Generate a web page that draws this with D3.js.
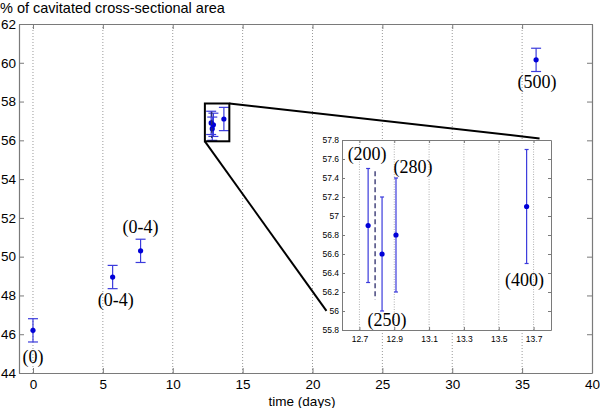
<!DOCTYPE html>
<html><head><meta charset="utf-8">
<script src="https://cdn.jsdelivr.net/npm/d3@7"></script>
<style>body{margin:0;background:#fff}svg{display:block}</style>
</head><body>
<script>
// ---- data ----
const days   = [0, 5.7, 7.7, 12.75, 12.83, 12.91, 13.66, 36];
const means  = [46.2, 48.95, 50.3, 56.9, 56.6, 56.8, 57.1, 60.15];
const errs   = [0.6, 0.6, 0.6, 0.6, 0.6, 0.6, 0.6, 0.6];
const labels = ["(0)", "(0-4)", "(0-4)", "(200)", "(250)", "(280)", "(400)", "(500)"];
const dashedDay = [12.79];
const dashedRange = [56.12, 57.47];
const xTicks = [0, 5, 10, 15, 20, 25, 30, 35, 40];
const yTicks = [44, 46, 48, 50, 52, 54, 56, 58, 60, 62];
const insetXTicks = [12.7, 12.9, 13.1, 13.3, 13.5, 13.7];
const insetYTicks = [55.8, 56, 56.2, 56.4, 56.6, 56.8, 57, 57.2, 57.4, 57.6, 57.8];
const zoomBoxX = [12.3, 14.05];
const zoomBoxY = [55.95, 57.9];
const titleText = "% of cavitated cross-sectional area";
const xLabelText = "time (days)";

const W = 600, H = 408;
const svg = d3.select("body").append("svg").attr("width", W).attr("height", H);

const x = d3.scaleLinear().domain([-1, 40]).range([19, 592]);
const y = d3.scaleLinear().domain([44, 62]).range([373, 24]);
const xi = d3.scaleLinear().domain([12.6, 13.8]).range([342, 551]);
const yi = d3.scaleLinear().domain([55.8, 57.8]).range([330, 140]);

const axisCol = "#7a7a7a";
const barCol = "#3b3bdc";
const dotCol = "#0000d8";
const sans = "Arial, 'Liberation Sans', sans-serif";
const serif = "'Times New Roman', 'Liberation Serif', serif";

// main grid
svg.append("g").selectAll("line").data(xTicks.filter(d => d < 40)).join("line")
  .attr("x1", d => x(d)).attr("x2", d => x(d))
  .attr("y1", y(44)).attr("y2", y(62))
  .attr("stroke", "#9a9a9a").attr("stroke-width", 1).attr("stroke-dasharray", "1,2");

// main axes (ticks inward)
function styleAxis(g) {
  g.selectAll("path").attr("stroke", axisCol).attr("stroke-width", 1.2);
  g.selectAll("line").attr("stroke", axisCol);
  g.selectAll("text").attr("font-family", sans).attr("font-size", 13.5).attr("fill", "#000");
}
svg.append("g").attr("transform", `translate(0,${y(44)})`)
  .call(d3.axisBottom(x).tickValues(xTicks).tickSize(-5).tickSizeOuter(0).tickPadding(6))
  .call(styleAxis);
svg.append("g").attr("transform", `translate(0,${y(62)})`)
  .call(d3.axisTop(x).tickValues(xTicks).tickSize(-5).tickSizeOuter(0).tickFormat(""))
  .call(styleAxis);
svg.append("g").attr("transform", `translate(${x(-1)},0)`)
  .call(d3.axisLeft(y).tickValues(yTicks).tickSize(-5).tickSizeOuter(0).tickPadding(3))
  .call(styleAxis);
svg.append("g").attr("transform", `translate(${x(40)},0)`)
  .call(d3.axisRight(y).tickValues(yTicks).tickSize(-5).tickSizeOuter(0).tickFormat(""))
  .call(styleAxis);

// title & x label
svg.append("text").attr("x", 0).attr("y", 13).attr("font-family", sans).attr("font-size", 14.5)
  .text(titleText);
svg.append("text").attr("x", 302).attr("y", 406).attr("text-anchor", "middle")
  .attr("font-family", sans).attr("font-size", 13.5).text(xLabelText);

const idx = d3.range(days.length);

function drawBars(g, xs, ys, cap, sw) {
  g.selectAll(null).data(idx).join("line")
    .attr("x1", i => xs(days[i])).attr("x2", i => xs(days[i]))
    .attr("y1", i => ys(means[i] + errs[i])).attr("y2", i => ys(means[i] - errs[i]))
    .attr("stroke", barCol).attr("stroke-width", sw);
  [1, -1].forEach(s => {
    g.selectAll(null).data(idx).join("line")
      .attr("x1", i => xs(days[i]) - cap).attr("x2", i => xs(days[i]) + cap)
      .attr("y1", i => ys(means[i] + s * errs[i])).attr("y2", i => ys(means[i] + s * errs[i]))
      .attr("stroke", barCol).attr("stroke-width", sw);
  });
  g.selectAll(null).data(idx).join("circle")
    .attr("cx", i => xs(days[i])).attr("cy", i => ys(means[i])).attr("r", 2.6)
    .attr("fill", dotCol);
  g.selectAll(null).data(dashedDay).join("line")
    .attr("x1", d => xs(d)).attr("x2", d => xs(d))
    .attr("y1", ys(dashedRange[1])).attr("y2", ys(dashedRange[0]))
    .attr("stroke", "#2a2a6a").attr("stroke-width", 1.3).attr("stroke-dasharray", "5,3");
}

// main data
const gMain = svg.append("g");
drawBars(gMain, x, y, 5, 1.2);

// main labels (indices 0,1,2,7)
const mainLab = [
  {i: 0, dx: 0, dy: 21},
  {i: 1, dx: 3, dy: 17},
  {i: 2, dx: 0, dy: -6},
  {i: 7, dx: 1, dy: 16},
];
svg.append("g").selectAll("text").data(mainLab).join("text")
  .attr("x", d => x(days[d.i]) + d.dx)
  .attr("y", d => (d.dy > 0 ? y(means[d.i] - errs[d.i]) : y(means[d.i] + errs[d.i])) + d.dy)
  .attr("text-anchor", "middle").attr("font-family", serif).attr("font-size", 18)
  .text(d => labels[d.i]);

// zoom box
svg.append("rect")
  .attr("x", x(zoomBoxX[0])).attr("y", y(zoomBoxY[1]))
  .attr("width", x(zoomBoxX[1]) - x(zoomBoxX[0])).attr("height", y(zoomBoxY[0]) - y(zoomBoxY[1]))
  .attr("fill", "none").attr("stroke", "#000").attr("stroke-width", 2);
// connectors
svg.append("line").attr("x1", x(zoomBoxX[1])).attr("y1", y(zoomBoxY[1]))
  .attr("x2", x(36.25)).attr("y2", y(56.1)).attr("stroke", "#000").attr("stroke-width", 2);
svg.append("line").attr("x1", x(zoomBoxX[0])).attr("y1", y(zoomBoxY[0]))
  .attr("x2", x(21)).attr("y2", y(47.2)).attr("stroke", "#000").attr("stroke-width", 2);

// ---- inset ----
const gI = svg.append("g");
gI.append("rect").attr("x", xi(12.6)).attr("y", yi(57.8))
  .attr("width", xi(13.8) - xi(12.6)).attr("height", yi(55.8) - yi(57.8)).attr("fill", "#fff");
gI.append("g").selectAll("line").data(insetXTicks).join("line")
  .attr("x1", d => xi(d)).attr("x2", d => xi(d)).attr("y1", yi(55.8)).attr("y2", yi(57.8))
  .attr("stroke", "#b0b0b0").attr("stroke-dasharray", "1,1.5");
function styleInset(g) {
  g.selectAll("path").attr("stroke", axisCol).attr("stroke-width", 1);
  g.selectAll("line").attr("stroke", axisCol);
  g.selectAll("text").attr("font-family", sans).attr("font-size", 8.5).attr("fill", "#000");
}
const fmt = d => d3.format("")(+d.toFixed(1));
gI.append("g").attr("transform", `translate(0,${yi(55.8)})`)
  .call(d3.axisBottom(xi).tickValues(insetXTicks).tickSize(-3).tickSizeOuter(0).tickPadding(6).tickFormat(fmt))
  .call(styleInset);
gI.append("g").attr("transform", `translate(0,${yi(57.8)})`)
  .call(d3.axisTop(xi).tickValues(insetXTicks).tickSize(-3).tickSizeOuter(0).tickFormat(""))
  .call(styleInset);
gI.append("g").attr("transform", `translate(${xi(12.6)},0)`)
  .call(d3.axisLeft(yi).tickValues(insetYTicks).tickSize(-3).tickSizeOuter(0).tickPadding(3).tickFormat(fmt))
  .call(styleInset);
gI.append("g").attr("transform", `translate(${xi(13.8)},0)`)
  .call(d3.axisRight(yi).tickValues(insetYTicks).tickSize(-3).tickSizeOuter(0).tickFormat(""))
  .call(styleInset);

const gIn = gI.append("g");
const insetIdx = idx.filter(i => days[i] >= 12.6 && days[i] <= 13.8);
(function () {
  const sw = 1.2, cap = 2;
  gIn.selectAll(null).data(insetIdx).join("line")
    .attr("x1", i => xi(days[i])).attr("x2", i => xi(days[i]))
    .attr("y1", i => yi(means[i] + errs[i])).attr("y2", i => yi(means[i] - errs[i]))
    .attr("stroke", barCol).attr("stroke-width", sw);
  [1, -1].forEach(s => {
    gIn.selectAll(null).data(insetIdx).join("line")
      .attr("x1", i => xi(days[i]) - cap).attr("x2", i => xi(days[i]) + cap)
      .attr("y1", i => yi(means[i] + s * errs[i])).attr("y2", i => yi(means[i] + s * errs[i]))
      .attr("stroke", barCol).attr("stroke-width", sw);
  });
  gIn.selectAll(null).data(insetIdx).join("circle")
    .attr("cx", i => xi(days[i])).attr("cy", i => yi(means[i])).attr("r", 2.6).attr("fill", dotCol);
  gIn.selectAll(null).data(dashedDay).join("line")
    .attr("x1", d => xi(d)).attr("x2", d => xi(d))
    .attr("y1", yi(dashedRange[1])).attr("y2", yi(dashedRange[0]))
    .attr("stroke", "#2a2a6a").attr("stroke-width", 1.3).attr("stroke-dasharray", "5,3");
})();

const insetLab = [
  {i: 3, dx: -1, dy: -9},
  {i: 4, dx: 5, dy: 15},
  {i: 5, dx: 17, dy: -5},
  {i: 6, dx: -2, dy: 22},
];
gI.append("g").selectAll("text").data(insetLab).join("text")
  .attr("x", d => xi(days[d.i]) + d.dx)
  .attr("y", d => (d.dy > 0 ? yi(means[d.i] - errs[d.i]) : yi(means[d.i] + errs[d.i])) + d.dy)
  .attr("text-anchor", "middle").attr("font-family", serif).attr("font-size", 18)
  .text(d => labels[d.i]);
</script>
</body></html>
